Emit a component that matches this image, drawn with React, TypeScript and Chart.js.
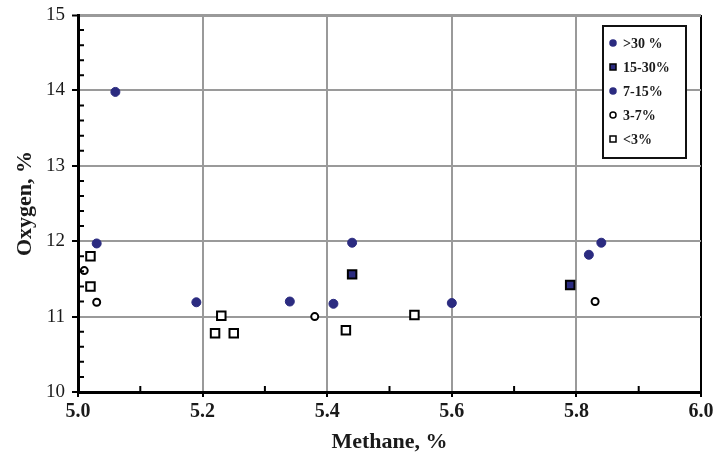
import React, { useEffect, useRef } from 'react';
import { Chart, registerables } from 'chart.js';
Chart.register(...registerables);

const seriesLabels = ['>30 %', '15-30%', '7-15%', '3-7%', '<3%'];
const over30X = [5.44, 5.82, 5.84];
const over30Y = [11.98, 11.82, 11.98];
const mid15to30X = [5.44, 5.79];
const mid15to30Y = [11.56, 11.42];
const mid7to15X = [5.06, 5.03, 5.19, 5.34, 5.41, 5.6];
const mid7to15Y = [13.98, 11.97, 11.19, 11.2, 11.17, 11.18];
const low3to7X = [5.01, 5.03, 5.38, 5.83];
const low3to7Y = [11.61, 11.19, 11.0, 11.2];
const under3X = [5.02, 5.02, 5.23, 5.22, 5.25, 5.43, 5.54];
const under3Y = [11.8, 11.4, 11.01, 10.78, 10.78, 10.82, 11.02];
const xMinorTicks = [5.1, 5.3, 5.5, 5.7, 5.9];
const yMinorTicks = [10.2, 10.4, 10.6, 10.8, 11.2, 11.4, 11.6, 11.8, 12.2, 12.4, 12.6, 12.8, 13.2, 13.4, 13.6, 13.8, 14.2, 14.4, 14.6, 14.8];

const NAVY = '#2b2b80';
const toPts = (xs: number[], ys: number[]) => xs.map((x, i) => ({ x, y: ys[i] }));

const extrasPlugin = {
  id: 'extras',
  afterDraw(chart: any) {
    const ctx = chart.ctx;
    const xs = chart.scales.x;
    const ys = chart.scales.y;
    const area = chart.chartArea;
    ctx.save();
    ctx.strokeStyle = '#000';
    ctx.lineWidth = 2;
    ctx.beginPath();
    xMinorTicks.forEach((v) => {
      const px = xs.getPixelForValue(v);
      ctx.moveTo(px, area.bottom);
      ctx.lineTo(px, area.bottom - 6);
    });
    yMinorTicks.forEach((v) => {
      const py = ys.getPixelForValue(v);
      ctx.moveTo(area.left, py);
      ctx.lineTo(area.left + 6, py);
    });
    ctx.stroke();

    const bx = area.right - 98;
    const by = area.top + 11;
    const bw = 83;
    const bh = 132;
    ctx.fillStyle = '#fff';
    ctx.fillRect(bx, by, bw, bh);
    ctx.lineWidth = 2;
    ctx.strokeStyle = '#111';
    ctx.strokeRect(bx, by, bw, bh);
    ctx.font = 'bold 14px "Liberation Serif"';
    ctx.textBaseline = 'middle';
    ctx.textAlign = 'left';
    chart.data.datasets.forEach((ds: any, i: number) => {
      const cy = by + 17 + i * 24;
      const mx = bx + 10;
      ctx.lineWidth = 1.5;
      ctx.fillStyle = ds.pointBackgroundColor;
      ctx.strokeStyle = ds.pointBorderColor;
      if (ds.pointStyle === 'rect') {
        ctx.fillRect(mx - 3, cy - 3, 6, 6);
        ctx.strokeRect(mx - 3, cy - 3, 6, 6);
      } else {
        ctx.beginPath();
        ctx.arc(mx, cy, 3, 0, Math.PI * 2);
        ctx.fill();
        ctx.stroke();
      }
      ctx.fillStyle = '#1a1a1a';
      ctx.fillText(ds.label, bx + 20, cy + 1);
    });
    ctx.restore();
  },
};

export default function App() {
  const ref = useRef<HTMLCanvasElement>(null);
  useEffect(() => {
    document.body.style.margin = '0';
    const xTickFont = { family: '"Liberation Serif"', size: 20, weight: 'bold' as const };
    const yTickFont = { family: '"Liberation Serif"', size: 19, weight: 'normal' as const };
    const titleFont = { family: '"Liberation Serif"', size: 22, weight: 'bold' as const };
    const chart = new Chart(ref.current!, {
      type: 'scatter',
      data: {
        datasets: [
          {
            label: seriesLabels[0],
            data: toPts(over30X, over30Y),
            pointStyle: 'circle',
            pointRadius: 4.5,
            pointBackgroundColor: NAVY,
            pointBorderColor: NAVY,
            pointBorderWidth: 1,
          },
          {
            label: seriesLabels[1],
            data: toPts(mid15to30X, mid15to30Y),
            pointStyle: 'rect',
            pointRadius: 6,
            pointBackgroundColor: NAVY,
            pointBorderColor: '#000',
            pointBorderWidth: 2,
          },
          {
            label: seriesLabels[2],
            data: toPts(mid7to15X, mid7to15Y),
            pointStyle: 'circle',
            pointRadius: 4.5,
            pointBackgroundColor: NAVY,
            pointBorderColor: NAVY,
            pointBorderWidth: 1,
          },
          {
            label: seriesLabels[3],
            data: toPts(low3to7X, low3to7Y),
            pointStyle: 'circle',
            pointRadius: 3.5,
            pointBackgroundColor: '#fff',
            pointBorderColor: '#000',
            pointBorderWidth: 2,
          },
          {
            label: seriesLabels[4],
            data: toPts(under3X, under3Y),
            pointStyle: 'rect',
            pointRadius: 6,
            pointBackgroundColor: '#fff',
            pointBorderColor: '#000',
            pointBorderWidth: 2,
          },
        ] as any,
      },
      options: {
        animation: false,
        responsive: false,
        layout: { padding: { top: 15, right: 12, left: 0, bottom: 0 } },
        plugins: { legend: { display: false }, tooltip: { enabled: false } },
        scales: {
          x: {
            type: 'linear',
            min: 5.0,
            max: 6.0,
            ticks: {
              stepSize: 0.2,
              color: '#1a1a1a',
              font: xTickFont,
              padding: 3,
              callback: (v: any) => Number(v).toFixed(1),
            },
            grid: {
              color: (c: any) => (Math.abs(c.tick.value - 6) < 1e-6 ? '#000' : '#9a9a9a'),
              lineWidth: 2,
              tickColor: '#000',
              tickLength: 5,
              tickWidth: 2,
            },
            border: { color: '#000', width: 3 },
            title: { display: true, text: 'Methane, %', color: '#1a1a1a', font: titleFont, padding: { top: 0, bottom: 1 } },
            afterFit: (s: any) => {
              s.height = 65;
              s.paddingLeft = 0;
              s.paddingRight = 0;
            },
          },
          y: {
            type: 'linear',
            min: 10,
            max: 15,
            ticks: { stepSize: 1, color: '#1a1a1a', font: yTickFont, padding: 7 },
            grid: {
              color: '#9a9a9a',
              lineWidth: (c: any) => (c.tick.value === 15 ? 3 : 2),
              tickColor: '#000',
              tickLength: 6,
              tickWidth: 2,
            },
            border: { color: '#000', width: 3 },
            title: { display: true, text: 'Oxygen, %', color: '#1a1a1a', font: titleFont, padding: { top: 12, bottom: 0 } },
            afterFit: (s: any) => {
              s.width = 78;
              s.paddingTop = 0;
              s.paddingBottom = 0;
            },
          },
        },
      } as any,
      plugins: [extrasPlugin],
    });
    return () => chart.destroy();
  }, []);
  return (
    <div style={{ width: 713, height: 457 }}>
      <canvas ref={ref} width={713} height={457} />
    </div>
  );
}
